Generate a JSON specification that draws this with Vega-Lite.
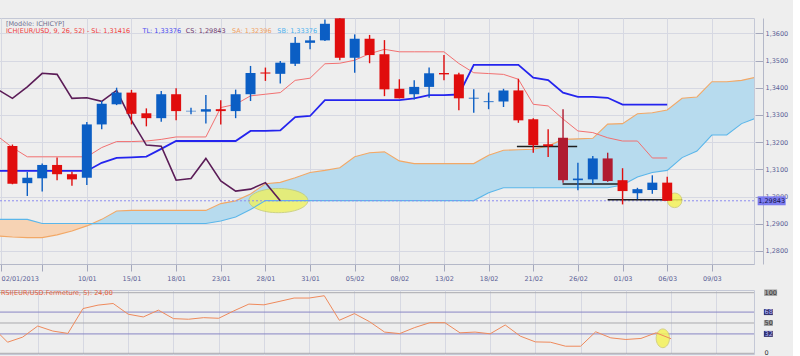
{
  "$schema": "https://vega.github.io/schema/vega-lite/v6.json",
  "background": "#eeeeee",
  "padding": {"left": -5, "top": 17, "right": 4, "bottom": 0},
  "bounds": "flush",
  "spacing": 26,
  "config": {
    "font": "DejaVu Sans",
    "view": {"stroke": "#c4c8d6", "strokeWidth": 1},
    "axis": {"labelFont": "DejaVu Sans", "labelFontSize": 6.5, "labelColor": "#5b5f96", "domainColor": "#b4b8c8", "tickColor": "#a4a8bc", "gridColor": "#d6d8e2", "labelOverlap": false}
  },
  "resolve": {"scale": {"x": "independent", "y": "independent", "color": "independent"}},
  "datasets": {
    "bougies": [
      {"i": 1, "date": "03/01", "ouverture": 1.3186, "haut": 1.3191, "bas": 1.3045, "cloture": 1.3047, "type": "baisse"},
      {"i": 2, "date": "04/01", "ouverture": 1.3049, "haut": 1.3090, "bas": 1.3002, "cloture": 1.3069, "type": "hausse"},
      {"i": 3, "date": "07/01", "ouverture": 1.3067, "haut": 1.3121, "bas": 1.3018, "cloture": 1.3116, "type": "hausse"},
      {"i": 4, "date": "08/01", "ouverture": 1.3116, "haut": 1.3143, "bas": 1.3060, "cloture": 1.3082, "type": "baisse"},
      {"i": 5, "date": "09/01", "ouverture": 1.3082, "haut": 1.3091, "bas": 1.3040, "cloture": 1.3063, "type": "baisse"},
      {"i": 6, "date": "10/01", "ouverture": 1.3069, "haut": 1.3274, "bas": 1.3042, "cloture": 1.3265, "type": "hausse"},
      {"i": 7, "date": "11/01", "ouverture": 1.3265, "haut": 1.3351, "bas": 1.3247, "cloture": 1.3341, "type": "hausse"},
      {"i": 8, "date": "14/01", "ouverture": 1.3339, "haut": 1.3400, "bas": 1.3336, "cloture": 1.3382, "type": "hausse"},
      {"i": 9, "date": "15/01", "ouverture": 1.3382, "haut": 1.3392, "bas": 1.3265, "cloture": 1.3304, "type": "baisse"},
      {"i": 10, "date": "16/01", "ouverture": 1.3306, "haut": 1.3324, "bas": 1.3258, "cloture": 1.3288, "type": "baisse"},
      {"i": 11, "date": "17/01", "ouverture": 1.3288, "haut": 1.3388, "bas": 1.3275, "cloture": 1.3376, "type": "hausse"},
      {"i": 12, "date": "18/01", "ouverture": 1.3376, "haut": 1.3398, "bas": 1.3280, "cloture": 1.3314, "type": "baisse"},
      {"i": 13, "date": "21/01", "ouverture": 1.3313, "haut": 1.3326, "bas": 1.3302, "cloture": 1.3315, "type": "hausse"},
      {"i": 14, "date": "22/01", "ouverture": 1.3312, "haut": 1.3373, "bas": 1.3268, "cloture": 1.3321, "type": "hausse"},
      {"i": 15, "date": "23/01", "ouverture": 1.3321, "haut": 1.3354, "bas": 1.3265, "cloture": 1.3314, "type": "baisse"},
      {"i": 16, "date": "24/01", "ouverture": 1.3314, "haut": 1.3393, "bas": 1.3288, "cloture": 1.3376, "type": "hausse"},
      {"i": 17, "date": "25/01", "ouverture": 1.3376, "haut": 1.3480, "bas": 1.3351, "cloture": 1.3454, "type": "hausse"},
      {"i": 18, "date": "28/01", "ouverture": 1.3456, "haut": 1.3474, "bas": 1.3425, "cloture": 1.3452, "type": "baisse"},
      {"i": 19, "date": "29/01", "ouverture": 1.3451, "haut": 1.3498, "bas": 1.3415, "cloture": 1.3492, "type": "hausse"},
      {"i": 20, "date": "30/01", "ouverture": 1.3488, "haut": 1.3586, "bas": 1.3480, "cloture": 1.3565, "type": "hausse"},
      {"i": 21, "date": "31/01", "ouverture": 1.3565, "haut": 1.3590, "bas": 1.3541, "cloture": 1.3574, "type": "hausse"},
      {"i": 22, "date": "01/02", "ouverture": 1.3574, "haut": 1.3651, "bas": 1.3572, "cloture": 1.3635, "type": "hausse"},
      {"i": 23, "date": "04/02", "ouverture": 1.3655, "haut": 1.3655, "bas": 1.3501, "cloture": 1.3510, "type": "baisse"},
      {"i": 24, "date": "05/02", "ouverture": 1.3510, "haut": 1.3596, "bas": 1.3455, "cloture": 1.3580, "type": "hausse"},
      {"i": 25, "date": "06/02", "ouverture": 1.3580, "haut": 1.3594, "bas": 1.3490, "cloture": 1.3520, "type": "baisse"},
      {"i": 26, "date": "07/02", "ouverture": 1.3523, "haut": 1.3575, "bas": 1.3369, "cloture": 1.3394, "type": "baisse"},
      {"i": 27, "date": "08/02", "ouverture": 1.3396, "haut": 1.3431, "bas": 1.3361, "cloture": 1.3361, "type": "baisse"},
      {"i": 28, "date": "11/02", "ouverture": 1.3376, "haut": 1.3427, "bas": 1.3357, "cloture": 1.3403, "type": "hausse"},
      {"i": 29, "date": "12/02", "ouverture": 1.3403, "haut": 1.3474, "bas": 1.3363, "cloture": 1.3453, "type": "hausse"},
      {"i": 30, "date": "13/02", "ouverture": 1.3454, "haut": 1.3520, "bas": 1.3427, "cloture": 1.3449, "type": "baisse"},
      {"i": 31, "date": "14/02", "ouverture": 1.3449, "haut": 1.3455, "bas": 1.3317, "cloture": 1.3361, "type": "baisse"},
      {"i": 32, "date": "15/02", "ouverture": 1.3360, "haut": 1.3394, "bas": 1.3308, "cloture": 1.3363, "type": "hausse"},
      {"i": 33, "date": "18/02", "ouverture": 1.3347, "haut": 1.3382, "bas": 1.3321, "cloture": 1.3350, "type": "hausse"},
      {"i": 34, "date": "19/02", "ouverture": 1.3349, "haut": 1.3396, "bas": 1.3329, "cloture": 1.3390, "type": "hausse"},
      {"i": 35, "date": "20/02", "ouverture": 1.3390, "haut": 1.3433, "bas": 1.3271, "cloture": 1.3280, "type": "baisse"},
      {"i": 36, "date": "21/02", "ouverture": 1.3284, "haut": 1.3288, "bas": 1.3161, "cloture": 1.3189, "type": "baisse"},
      {"i": 37, "date": "22/02", "ouverture": 1.3192, "haut": 1.3247, "bas": 1.3145, "cloture": 1.3185, "type": "baisse"},
      {"i": 38, "date": "25/02", "ouverture": 1.3216, "haut": 1.3321, "bas": 1.3051, "cloture": 1.3060, "type": "motif"},
      {"i": 39, "date": "26/02", "ouverture": 1.3060, "haut": 1.3124, "bas": 1.3023, "cloture": 1.3066, "type": "hausse"},
      {"i": 40, "date": "27/02", "ouverture": 1.3063, "haut": 1.3149, "bas": 1.3045, "cloture": 1.3140, "type": "hausse"},
      {"i": 41, "date": "28/02", "ouverture": 1.3140, "haut": 1.3161, "bas": 1.3054, "cloture": 1.3057, "type": "motif"},
      {"i": 42, "date": "01/03", "ouverture": 1.3060, "haut": 1.3104, "bas": 1.2971, "cloture": 1.3020, "type": "baisse"},
      {"i": 43, "date": "04/03", "ouverture": 1.3012, "haut": 1.3032, "bas": 1.2990, "cloture": 1.3027, "type": "hausse"},
      {"i": 44, "date": "05/03", "ouverture": 1.3024, "haut": 1.3078, "bas": 1.3010, "cloture": 1.3051, "type": "hausse"},
      {"i": 45, "date": "06/03", "ouverture": 1.3051, "haut": 1.3073, "bas": 1.2984, "cloture": 1.29843, "type": "baisse"}
    ],
    "ichimoku": [
      {"i": 0, "tenkan": 1.3222, "kijun": 1.3094, "chikou": 1.3394, "ssa": 1.2855, "ssb": 1.2916},
      {"i": 1, "tenkan": 1.3180, "kijun": 1.3094, "chikou": 1.3361, "ssa": 1.2851, "ssb": 1.2916},
      {"i": 2, "tenkan": 1.3146, "kijun": 1.3094, "chikou": 1.3403, "ssa": 1.2849, "ssb": 1.2916},
      {"i": 3, "tenkan": 1.3146, "kijun": 1.3094, "chikou": 1.3453, "ssa": 1.2849, "ssb": 1.2901},
      {"i": 4, "tenkan": 1.3146, "kijun": 1.3094, "chikou": 1.3449, "ssa": 1.2859, "ssb": 1.2901},
      {"i": 5, "tenkan": 1.3146, "kijun": 1.3094, "chikou": 1.3361, "ssa": 1.2873, "ssb": 1.2901},
      {"i": 6, "tenkan": 1.3146, "kijun": 1.3094, "chikou": 1.3363, "ssa": 1.2892, "ssb": 1.2901},
      {"i": 7, "tenkan": 1.3180, "kijun": 1.3124, "chikou": 1.3350, "ssa": 1.2916, "ssb": 1.2901},
      {"i": 8, "tenkan": 1.3202, "kijun": 1.3142, "chikou": 1.3390, "ssa": 1.2947, "ssb": 1.2901},
      {"i": 9, "tenkan": 1.3202, "kijun": 1.3144, "chikou": 1.3280, "ssa": 1.2949, "ssb": 1.2901},
      {"i": 10, "tenkan": 1.3204, "kijun": 1.3147, "chikou": 1.3189, "ssa": 1.2949, "ssb": 1.2901},
      {"i": 11, "tenkan": 1.3210, "kijun": 1.3175, "chikou": 1.3185, "ssa": 1.2949, "ssb": 1.2901},
      {"i": 12, "tenkan": 1.3219, "kijun": 1.3204, "chikou": 1.3060, "ssa": 1.2949, "ssb": 1.2901},
      {"i": 13, "tenkan": 1.3219, "kijun": 1.3204, "chikou": 1.3066, "ssa": 1.2949, "ssb": 1.2901},
      {"i": 14, "tenkan": 1.3219, "kijun": 1.3204, "chikou": 1.3140, "ssa": 1.2949, "ssb": 1.2901},
      {"i": 15, "tenkan": 1.3327, "kijun": 1.3204, "chikou": 1.3057, "ssa": 1.2974, "ssb": 1.2910},
      {"i": 16, "tenkan": 1.3339, "kijun": 1.3204, "chikou": 1.3020, "ssa": 1.2984, "ssb": 1.2925},
      {"i": 17, "tenkan": 1.3370, "kijun": 1.3241, "chikou": 1.3027, "ssa": 1.3009, "ssb": 1.2952},
      {"i": 18, "tenkan": 1.3376, "kijun": 1.3241, "chikou": 1.3051, "ssa": 1.3047, "ssb": 1.2985},
      {"i": 19, "tenkan": 1.3382, "kijun": 1.3243, "chikou": 1.29843, "ssa": 1.3052, "ssb": 1.2985},
      {"i": 20, "tenkan": 1.3427, "kijun": 1.3292, "chikou": null, "ssa": 1.3069, "ssb": 1.2985},
      {"i": 21, "tenkan": 1.3435, "kijun": 1.3296, "chikou": null, "ssa": 1.3088, "ssb": 1.2985},
      {"i": 22, "tenkan": 1.3488, "kijun": 1.3354, "chikou": null, "ssa": 1.3096, "ssb": 1.2985},
      {"i": 23, "tenkan": 1.3490, "kijun": 1.3354, "chikou": null, "ssa": 1.3106, "ssb": 1.2985},
      {"i": 24, "tenkan": 1.3501, "kijun": 1.3354, "chikou": null, "ssa": 1.3146, "ssb": 1.2985},
      {"i": 25, "tenkan": 1.3525, "kijun": 1.3354, "chikou": null, "ssa": 1.3161, "ssb": 1.2985},
      {"i": 26, "tenkan": 1.3541, "kijun": 1.3354, "chikou": null, "ssa": 1.3164, "ssb": 1.2985},
      {"i": 27, "tenkan": 1.3532, "kijun": 1.3354, "chikou": null, "ssa": 1.3131, "ssb": 1.2985},
      {"i": 28, "tenkan": 1.3532, "kijun": 1.3361, "chikou": null, "ssa": 1.3121, "ssb": 1.2985},
      {"i": 29, "tenkan": 1.3532, "kijun": 1.3373, "chikou": null, "ssa": 1.3121, "ssb": 1.2985},
      {"i": 30, "tenkan": 1.3532, "kijun": 1.3373, "chikou": null, "ssa": 1.3121, "ssb": 1.2985},
      {"i": 31, "tenkan": 1.3489, "kijun": 1.3375, "chikou": null, "ssa": 1.3121, "ssb": 1.2985},
      {"i": 32, "tenkan": 1.3455, "kijun": 1.3484, "chikou": null, "ssa": 1.3121, "ssb": 1.2985},
      {"i": 33, "tenkan": 1.3452, "kijun": 1.3484, "chikou": null, "ssa": 1.3152, "ssb": 1.3014},
      {"i": 34, "tenkan": 1.3449, "kijun": 1.3484, "chikou": null, "ssa": 1.3170, "ssb": 1.3032},
      {"i": 35, "tenkan": 1.3431, "kijun": 1.3484, "chikou": null, "ssa": 1.3172, "ssb": 1.3032},
      {"i": 36, "tenkan": 1.3339, "kijun": 1.3437, "chikou": null, "ssa": 1.3174, "ssb": 1.3032},
      {"i": 37, "tenkan": 1.3333, "kijun": 1.3428, "chikou": null, "ssa": 1.3186, "ssb": 1.3032},
      {"i": 38, "tenkan": 1.3285, "kijun": 1.3382, "chikou": null, "ssa": 1.3210, "ssb": 1.3032},
      {"i": 39, "tenkan": 1.3241, "kijun": 1.3366, "chikou": null, "ssa": 1.3212, "ssb": 1.3032},
      {"i": 40, "tenkan": 1.3235, "kijun": 1.3366, "chikou": null, "ssa": 1.3214, "ssb": 1.3032},
      {"i": 41, "tenkan": 1.3216, "kijun": 1.3363, "chikou": null, "ssa": 1.3266, "ssb": 1.3032},
      {"i": 42, "tenkan": 1.3204, "kijun": 1.33376, "chikou": null, "ssa": 1.3268, "ssb": 1.3042},
      {"i": 43, "tenkan": 1.3204, "kijun": 1.33376, "chikou": null, "ssa": 1.3304, "ssb": 1.3072},
      {"i": 44, "tenkan": 1.31416, "kijun": 1.33376, "chikou": null, "ssa": 1.3308, "ssb": 1.3088},
      {"i": 45, "tenkan": 1.31416, "kijun": 1.33376, "chikou": null, "ssa": 1.3318, "ssb": 1.3096},
      {"i": 46, "tenkan": null, "kijun": null, "chikou": null, "ssa": 1.3361, "ssb": 1.3143},
      {"i": 47, "tenkan": null, "kijun": null, "chikou": null, "ssa": 1.3366, "ssb": 1.3167},
      {"i": 48, "tenkan": null, "kijun": null, "chikou": null, "ssa": 1.3422, "ssb": 1.3226},
      {"i": 49, "tenkan": null, "kijun": null, "chikou": null, "ssa": 1.3422, "ssb": 1.3226},
      {"i": 50, "tenkan": null, "kijun": null, "chikou": null, "ssa": 1.3427, "ssb": 1.3268},
      {"i": 51, "tenkan": null, "kijun": null, "chikou": null, "ssa": 1.3439, "ssb": 1.3289}
    ],
    "rsi": [
      {"i": 0, "rsi": 43.3}, {"i": 1, "rsi": 18.3}, {"i": 2, "rsi": 26.7}, {"i": 3, "rsi": 45.0},
      {"i": 4, "rsi": 36.7}, {"i": 5, "rsi": 32.8}, {"i": 6, "rsi": 73.8}, {"i": 7, "rsi": 79.5},
      {"i": 8, "rsi": 82.2}, {"i": 9, "rsi": 64.5}, {"i": 10, "rsi": 60.0}, {"i": 11, "rsi": 71.2},
      {"i": 12, "rsi": 57.2}, {"i": 13, "rsi": 56.2}, {"i": 14, "rsi": 58.8}, {"i": 15, "rsi": 57.8},
      {"i": 16, "rsi": 70.0}, {"i": 17, "rsi": 81.2}, {"i": 18, "rsi": 80.0}, {"i": 19, "rsi": 85.5},
      {"i": 20, "rsi": 91.2}, {"i": 21, "rsi": 91.2}, {"i": 22, "rsi": 95.0}, {"i": 23, "rsi": 54.5},
      {"i": 24, "rsi": 65.5}, {"i": 25, "rsi": 52.2}, {"i": 26, "rsi": 35.0}, {"i": 27, "rsi": 32.5},
      {"i": 28, "rsi": 42.5}, {"i": 29, "rsi": 50.5}, {"i": 30, "rsi": 50.5}, {"i": 31, "rsi": 33.8},
      {"i": 32, "rsi": 35.0}, {"i": 33, "rsi": 32.2}, {"i": 34, "rsi": 46.7}, {"i": 35, "rsi": 28.3},
      {"i": 36, "rsi": 18.8}, {"i": 37, "rsi": 18.3}, {"i": 38, "rsi": 11.7}, {"i": 39, "rsi": 11.7},
      {"i": 40, "rsi": 35.5}, {"i": 41, "rsi": 25.5}, {"i": 42, "rsi": 22.8}, {"i": 43, "rsi": 24.5},
      {"i": 44, "rsi": 33.8}, {"i": 45, "rsi": 24.0}
    ],
    "supports": [
      {"debut": 34.9, "fin": 38.95, "niveau": 1.3184},
      {"debut": 37.97, "fin": 41.94, "niveau": 1.3046},
      {"debut": 41.0, "fin": 46.0, "niveau": 1.2988}
    ],
    "niveaux": [
      {"niveau": 100, "texte": "100"},
      {"niveau": 68, "texte": "68"},
      {"niveau": 50, "texte": "50"},
      {"niveau": 32, "texte": "32"},
      {"niveau": 0, "texte": "0"}
    ]
  },
  "vconcat": [
    {
      "width": 758,
      "height": 246,
      "resolve": {"axis": {"x": "independent", "y": "independent"}},
      "layer": [
        {
          "data": {"name": "ichimoku"},
          "transform": [{"calculate": "min(datum.ssa, datum.ssb)", "as": "plancher"}],
          "mark": {"type": "area", "color": "#f7d3b4", "clip": true},
          "encoding": {
            "x": {
              "field": "i", "type": "quantitative", "title": null,
              "scale": {"domain": [0.232, 50.497], "nice": false, "zero": false},
              "axis": {
                "values": [0.232, 3, 6, 9, 12, 15, 18, 21, 24, 27, 30, 33, 36, 39, 42, 45, 48],
                "labelExpr": "datum.value < 1 ? '02/01/2013' : ['', '', '10/01', '15/01', '18/01', '23/01', '28/01', '31/01', '05/02', '08/02', '13/02', '18/02', '21/02', '26/02', '01/03', '06/03', '09/03'][round(datum.value / 3)]",
                "labelFlush": false,
                "labelAlign": {"condition": {"test": "datum.value < 1", "value": "left"}, "value": "center"},
                "labelOverlap": false,
                "labelPadding": 4,
                "tickSize": 7,
                "grid": true
              }
            },
            "y": {
              "field": "ssb", "type": "quantitative", "title": null,
              "scale": {"domain": [1.27519, 1.365625], "nice": false, "zero": false},
              "axis": {
                "orient": "right",
                "offset": 9,
                "values": [1.28, 1.29, 1.3, 1.31, 1.32, 1.33, 1.34, 1.35, 1.36],
                "labelExpr": "replace(format(datum.value, '.4f'), '.', ',')",
                "labelOverlap": false,
                "labelPadding": 10,
                "tickSize": -8,
                "grid": true
              }
            },
            "y2": {"field": "plancher"}
          }
        },
        {
          "data": {"name": "ichimoku"},
          "transform": [{"calculate": "min(datum.ssa, datum.ssb)", "as": "plancher"}],
          "mark": {"type": "area", "color": "#b7dbee", "clip": true},
          "encoding": {
            "x": {"field": "i", "type": "quantitative", "axis": null},
            "y": {"field": "ssa", "type": "quantitative", "axis": null},
            "y2": {"field": "plancher"}
          }
        },
        {
          "data": {"values": [{"i": 18.87, "prix": 1.2985}]},
          "mark": {"type": "point", "shape": "M-1,0C-1,-0.226,-0.552,-0.41,0,-0.41C0.552,-0.41,1,-0.226,1,0C1,0.226,0.552,0.41,0,0.41C-0.552,0.41,-1,0.226,-1,0Z", "size": 3481, "filled": true, "color": "#f0f25c", "opacity": 0.78, "stroke": "#c4cc6a", "strokeWidth": 1},
          "encoding": {
            "x": {"field": "i", "type": "quantitative", "axis": null},
            "y": {"field": "prix", "type": "quantitative", "axis": null}
          }
        },
        {
          "data": {"name": "ichimoku"},
          "mark": {"type": "line", "color": "#f2a866", "strokeWidth": 1.1, "clip": true},
          "encoding": {
            "x": {"field": "i", "type": "quantitative", "axis": null},
            "y": {"field": "ssa", "type": "quantitative", "axis": null}
          }
        },
        {
          "data": {"name": "ichimoku"},
          "mark": {"type": "line", "color": "#5ab6ea", "strokeWidth": 1.1, "clip": true},
          "encoding": {
            "x": {"field": "i", "type": "quantitative", "axis": null},
            "y": {"field": "ssb", "type": "quantitative", "axis": null}
          }
        },
        {
          "data": {"values": [{"cloture": 1.29843}]},
          "mark": {"type": "rule", "color": "#8c8cf0", "strokeDash": [2, 2], "strokeWidth": 1},
          "encoding": {"y": {"field": "cloture", "type": "quantitative", "axis": null}}
        },
        {
          "data": {"name": "ichimoku"},
          "mark": {"type": "line", "color": "#f27070", "strokeWidth": 1, "clip": true},
          "encoding": {
            "x": {"field": "i", "type": "quantitative", "axis": null},
            "y": {"field": "tenkan", "type": "quantitative", "axis": null}
          }
        },
        {
          "data": {"name": "ichimoku"},
          "mark": {"type": "line", "color": "#2424ee", "strokeWidth": 1.8, "clip": true},
          "encoding": {
            "x": {"field": "i", "type": "quantitative", "axis": null},
            "y": {"field": "kijun", "type": "quantitative", "axis": null}
          }
        },
        {
          "data": {"name": "ichimoku"},
          "mark": {"type": "line", "color": "#5b1c57", "strokeWidth": 1.6, "clip": true},
          "encoding": {
            "x": {"field": "i", "type": "quantitative", "axis": null},
            "y": {"field": "chikou", "type": "quantitative", "axis": null}
          }
        },
        {
          "data": {"name": "supports"},
          "mark": {"type": "rule", "color": "#1e1e1e", "strokeWidth": 1.6},
          "encoding": {
            "x": {"field": "debut", "type": "quantitative", "axis": null},
            "x2": {"field": "fin"},
            "y": {"field": "niveau", "type": "quantitative", "axis": null}
          }
        },
        {
          "data": {"values": [{"i": 45.5, "prix": 1.2986}]},
          "mark": {"type": "point", "shape": "circle", "size": 213, "filled": true, "color": "#f4f25a", "opacity": 0.85, "stroke": "#d0cc70", "strokeWidth": 1},
          "encoding": {
            "x": {"field": "i", "type": "quantitative", "axis": null},
            "y": {"field": "prix", "type": "quantitative", "axis": null}
          }
        },
        {
          "data": {"name": "bougies"},
          "mark": {"type": "rule", "strokeWidth": 1.4, "clip": true},
          "encoding": {
            "x": {"field": "i", "type": "quantitative", "axis": null},
            "y": {"field": "haut", "type": "quantitative", "axis": null},
            "y2": {"field": "bas"},
            "color": {"field": "type", "type": "nominal", "legend": null, "scale": {"domain": ["hausse", "baisse", "motif"], "range": ["#0b5ec4", "#e00d0d", "#b01b30"]}}
          }
        },
        {
          "data": {"name": "bougies"},
          "mark": {"type": "bar", "size": 10, "clip": true},
          "encoding": {
            "x": {"field": "i", "type": "quantitative", "axis": null},
            "y": {"field": "ouverture", "type": "quantitative", "axis": null},
            "y2": {"field": "cloture"},
            "color": {"field": "type", "type": "nominal", "legend": null, "scale": {"domain": ["hausse", "baisse", "motif"], "range": ["#0b5ec4", "#e00d0d", "#b01b30"]}}
          }
        },
        {
          "data": {"values": [{}]},
          "mark": {"type": "text", "text": "[Modèle: ICHICYP]", "align": "left", "baseline": "middle", "font": "DejaVu Sans", "fontSize": 6.5, "color": "#6e6e8e"},
          "encoding": {"x": {"datum": 0.564, "axis": null}, "y": {"datum": 1.36353, "axis": null}}
        },
        {
          "data": {"values": [{}]},
          "mark": {"type": "text", "text": "ICH(EUR/USD, 9, 26, 52) -  SL: 1,31416", "align": "left", "baseline": "middle", "font": "DejaVu Sans", "fontSize": 6.5, "color": "#f03a3a"},
          "encoding": {"x": {"datum": 0.564, "axis": null}, "y": {"datum": 1.36085, "axis": null}}
        },
        {
          "data": {"values": [{}]},
          "mark": {"type": "text", "text": "TL: 1,33376", "align": "left", "baseline": "middle", "font": "DejaVu Sans", "fontSize": 6.5, "color": "#4646f0"},
          "encoding": {"x": {"datum": 9.735, "axis": null}, "y": {"datum": 1.36085, "axis": null}}
        },
        {
          "data": {"values": [{}]},
          "mark": {"type": "text", "text": "CS: 1,29843", "align": "left", "baseline": "middle", "font": "DejaVu Sans", "fontSize": 6.5, "color": "#6e3a6e"},
          "encoding": {"x": {"datum": 12.65, "axis": null}, "y": {"datum": 1.36085, "axis": null}}
        },
        {
          "data": {"values": [{}]},
          "mark": {"type": "text", "text": "SA: 1,32396", "align": "left", "baseline": "middle", "font": "DejaVu Sans", "fontSize": 6.5, "color": "#f0a060"},
          "encoding": {"x": {"datum": 15.75, "axis": null}, "y": {"datum": 1.36085, "axis": null}}
        },
        {
          "data": {"values": [{}]},
          "mark": {"type": "text", "text": "SB: 1,33376", "align": "left", "baseline": "middle", "font": "DejaVu Sans", "fontSize": 6.5, "color": "#48b0ee"},
          "encoding": {"x": {"datum": 18.8, "axis": null}, "y": {"datum": 1.36085, "axis": null}}
        },
        {
          "data": {"values": [{"cloture": 1.29843, "texte": "1,29843"}]},
          "mark": {"type": "point", "shape": "M-1,-0.32H1V0.32H-1Z", "size": 784, "filled": true, "color": "#7c7cf0", "opacity": 1, "clip": false},
          "encoding": {"x": {"datum": 52.02, "axis": null}, "y": {"field": "cloture", "type": "quantitative", "axis": null}}
        },
        {
          "data": {"values": [{"cloture": 1.29843, "texte": "1,29843"}]},
          "mark": {"type": "text", "align": "center", "baseline": "middle", "font": "DejaVu Sans", "fontSize": 6.5, "color": "#15154a", "clip": false},
          "encoding": {"x": {"datum": 52.02, "axis": null}, "y": {"field": "cloture", "type": "quantitative", "axis": null}, "text": {"field": "texte"}}
        }
      ]
    },
    {
      "width": 758,
      "height": 64,
      "resolve": {"axis": {"x": "independent", "y": "independent"}},
      "layer": [
        {
          "data": {"name": "rsi"},
          "mark": {"type": "line", "color": "#ef8a5c", "strokeWidth": 1, "opacity": 0, "clip": true},
          "encoding": {
            "x": {
              "field": "i", "type": "quantitative", "title": null,
              "scale": {"domain": [0.232, 50.497], "nice": false, "zero": false},
              "axis": {"values": [3, 6, 9, 12, 15, 18, 21, 24, 27, 30, 33, 36, 39, 42, 45, 48], "grid": true, "labels": false, "ticks": false, "domain": false}
            },
            "y": {"field": "rsi", "type": "quantitative", "title": null, "axis": null, "scale": {"domain": [-1.16, 104.46], "nice": false, "zero": false}}
          }
        },
        {
          "data": {"name": "niveaux"},
          "mark": {"type": "rule", "strokeWidth": 1},
          "encoding": {
            "y": {"field": "niveau", "type": "quantitative", "axis": null},
            "color": {"condition": {"test": "datum.niveau == 32 || datum.niveau == 68", "value": "#8886c4"}, "value": "#a9a9ae"}
          }
        },
        {
          "data": {"values": [{"i": 44.45, "rsi": 24.75}]},
          "mark": {"type": "point", "shape": "M-0.71,0C-0.71,-0.552,-0.392,-1,0,-1C0.392,-1,0.71,-0.552,0.71,0C0.71,0.552,0.392,1,0,1C-0.392,1,-0.71,0.552,-0.71,0Z", "size": 350, "filled": true, "color": "#f4f25a", "opacity": 0.85, "stroke": "#d0cc70", "strokeWidth": 1},
          "encoding": {
            "x": {"field": "i", "type": "quantitative", "axis": null},
            "y": {"field": "rsi", "type": "quantitative", "axis": null}
          }
        },
        {
          "data": {"name": "rsi"},
          "mark": {"type": "line", "color": "#ef8a5c", "strokeWidth": 1, "clip": true},
          "encoding": {
            "x": {"field": "i", "type": "quantitative", "axis": null},
            "y": {"field": "rsi", "type": "quantitative", "axis": null}
          }
        },
        {
          "data": {"values": [{}]},
          "mark": {"type": "text", "text": "RSI(EUR/USD.Fermeture, 5): 24,00", "align": "left", "baseline": "middle", "font": "DejaVu Sans", "fontSize": 6.5, "color": "#e8603c"},
          "encoding": {"x": {"datum": 0.564, "axis": null}, "y": {"datum": 100, "axis": null}}
        },
        {
          "data": {"name": "niveaux"},
          "transform": [{"filter": "datum.niveau == 100"}],
          "mark": {"type": "point", "shape": "M-1,-0.5H1V0.5H-1Z", "size": 169, "filled": true, "opacity": 1, "color": "#a3a3a3", "clip": false},
          "encoding": {"x": {"datum": 51.6, "axis": null}, "y": {"field": "niveau", "type": "quantitative", "axis": null}}
        },
        {
          "data": {"name": "niveaux"},
          "transform": [{"filter": "datum.niveau > 0 && datum.niveau < 100"}],
          "mark": {"type": "point", "shape": "M-1,-0.667H1V0.667H-1Z", "size": 81, "filled": true, "opacity": 1, "clip": false},
          "encoding": {
            "x": {"datum": 51.45, "axis": null},
            "y": {"field": "niveau", "type": "quantitative", "axis": null},
            "color": {"condition": {"test": "datum.niveau == 32 || datum.niveau == 68", "value": "#34346e"}, "value": "#a3a3a3"}
          }
        },
        {
          "data": {"name": "niveaux"},
          "mark": {"type": "text", "align": "left", "baseline": "middle", "font": "DejaVu Sans", "fontSize": 6.5, "clip": false},
          "encoding": {
            "x": {"datum": 51.2, "axis": null},
            "y": {"field": "niveau", "type": "quantitative", "axis": null},
            "text": {"field": "texte"},
            "color": {"condition": {"test": "datum.niveau == 32 || datum.niveau == 68", "value": "#b8b8ff"}, "value": "#333333"}
          }
        }
      ]
    }
  ]
}
